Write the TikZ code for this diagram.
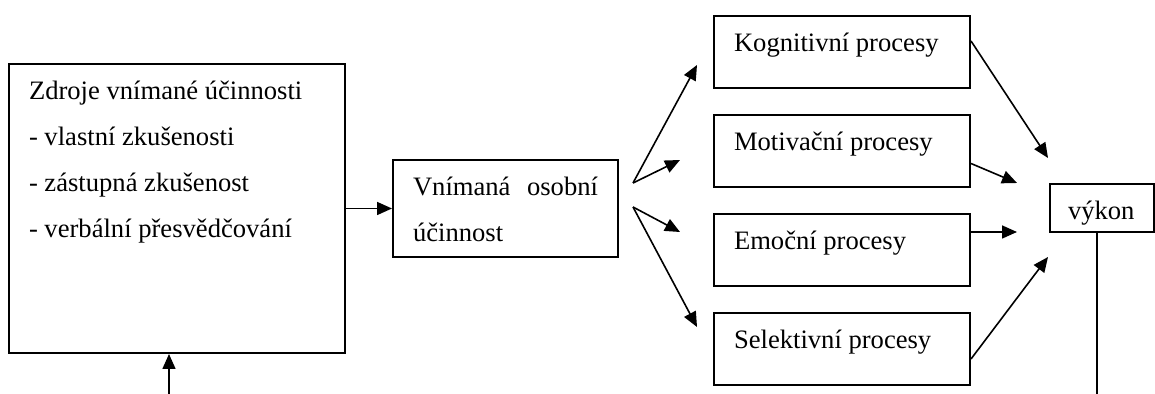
\documentclass[tikz,border=0pt]{standalone}
\usepackage{fontspec}
\setmainfont{Liberation Serif}
\usetikzlibrary{arrows.meta}
\usetikzlibrary{positioning}
\newcommand{\boxtext}[3]{\parbox[c][#2][t]{#1}{\setlength{\baselineskip}{23pt}\rule{0pt}{18pt}#3}}

\begin{document}
\begin{tikzpicture}[x=0.5pt,y=-0.5pt,font=\fontsize{13.3}{23}\selectfont,
  box/.style={draw,line width=1pt,inner xsep=10pt,inner ysep=0pt,anchor=north west},
  arr/.style={line width=0.8pt,-{Triangle[length=7.5pt,width=6.5pt]}}]
\useasboundingbox (0,0) rectangle (1155,394);

\node[box] (zdroje) at (8,63) {\boxtext{148pt}{144.5pt}{Zdroje vnímané účinnosti\\- vlastní zkušenosti\\- zástupná zkušenost\\- verbální přesvědčování}};
\node[box] (vnimana) at (392,159) {\boxtext{92.5pt}{48.5pt}{Vnímaná\hfill osobní\\účinnost}};

\node[box] (kog) at (713,15) {\boxtext{108pt}{36pt}{Kognitivní procesy}};
\node[box,below=12.5pt of kog] (mot) {\boxtext{108pt}{36pt}{Motivační procesy}};
\node[box,below=12.5pt of mot] (emo) {\boxtext{108pt}{36pt}{Emoční procesy}};
\node[box,below=12.5pt of emo] (sel) {\boxtext{108pt}{36pt}{Selektivní procesy}};
\node[box,inner xsep=9pt] (vykon) at (1049,183) {\boxtext{34pt}{24pt}{výkon}};

\coordinate (in) at (169,394);
\coordinate (up) at (633,183);
\coordinate (dn) at (633,207);
\coordinate (tk) at (697,65);
\coordinate (tm) at (680,160);
\coordinate (te) at (680,232);
\coordinate (ts) at (697,327);
\coordinate (v1) at (1048,158);
\coordinate (v2) at (1017,183);
\coordinate (v3) at (1017,232);
\coordinate (v4) at (1048,257);
\coordinate (out) at (1097,394);

\draw[arr] (in) -- (in |- zdroje.south);
\draw[arr] (zdroje.east |- vnimana.west) -- (vnimana.west);

\draw[arr] (up) -- (tk);
\draw[arr] (up) -- (tm);
\draw[arr] (dn) -- (te);
\draw[arr] (dn) -- (ts);

\draw[arr] ([yshift=5.5pt]kog.east) -- (v1);
\draw[arr] ([yshift=-6.25pt]mot.east) -- (v2);
\draw[arr] (emo.east |- v3) -- (v3);
\draw[arr] ([yshift=-5pt]sel.east) -- (v4);
\draw[line width=0.8pt] (out |- vykon.south) -- (out);

\end{tikzpicture}
\end{document}
